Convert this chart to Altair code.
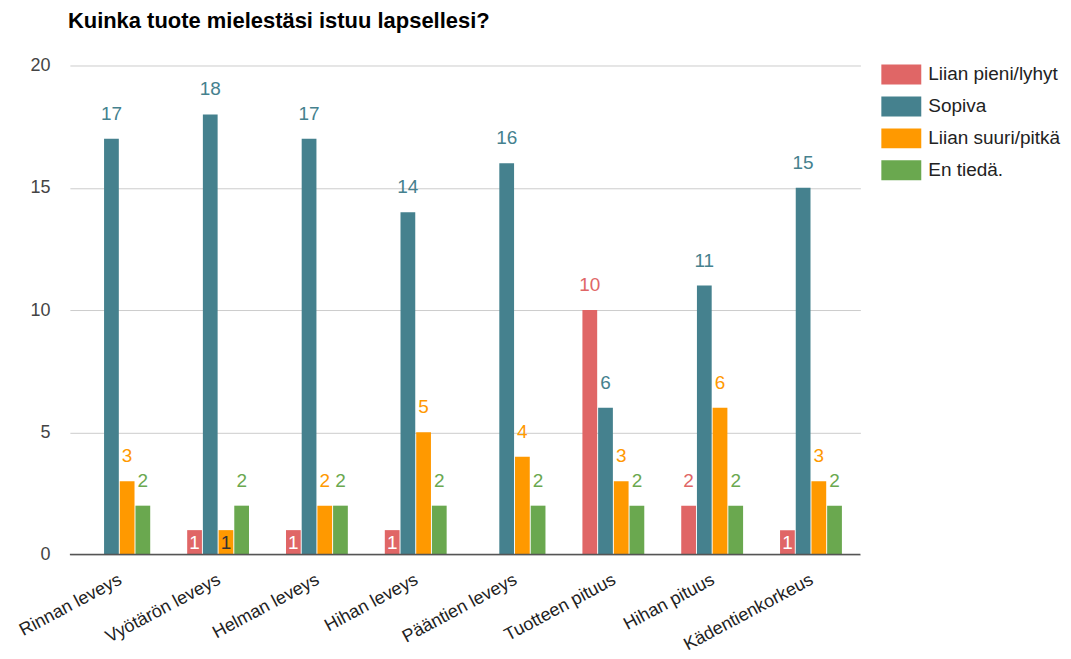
import altair as alt
import pandas as pd

categories = ["Rinnan leveys", "Vyötärön leveys", "Helman leveys", "Hihan leveys",
              "Pääntien leveys", "Tuotteen pituus", "Hihan pituus", "Kädentienkorkeus"]
series = ["Liian pieni/lyhyt", "Sopiva", "Liian suuri/pitkä", "En tiedä."]
colors = ["#e06666", "#45818e", "#ff9900", "#6aa84f"]
liian_pieni = [0, 1, 1, 1, 0, 10, 2, 1]
sopiva = [17, 18, 17, 14, 16, 6, 11, 15]
liian_suuri = [3, 1, 2, 5, 4, 3, 6, 3]
en_tieda = [2, 2, 2, 2, 2, 2, 2, 2]
inside_colors = ["#ffffff", "#ffffff", "#333333", "#ffffff"]

rows = []
for vals, s, c, ic in zip([liian_pieni, sopiva, liian_suuri, en_tieda], series, colors, inside_colors):
    for cat, v in zip(categories, vals):
        rows.append({"category": cat, "series": s, "value": v, "lcolor": c, "icolor": ic})
df = pd.DataFrame(rows)

FONT = "Liberation Sans"

x = alt.X("category:N", sort=categories, title=None,
          scale=alt.Scale(paddingInner=0.374, paddingOuter=0.187),
          axis=alt.Axis(labelAngle=-28, labelFontSize=18, labelColor="#222222", labelFont=FONT,
                        ticks=False, domain=False, labelPadding=16, labelOffset=-3))
xo = alt.XOffset("series:N", sort=series, scale=alt.Scale(paddingInner=0.06))
y = alt.Y("value:Q", title=None,
          scale=alt.Scale(domain=[0, 20], nice=False),
          axis=alt.Axis(values=[0, 5, 10, 15, 20], labelFontSize=18, labelColor="#444444",
                        labelFont=FONT, ticks=False, domain=False, labelPadding=20,
                        gridColor="#cccccc", gridWidth=1))

base = alt.Chart(df)

bars = base.mark_bar().encode(
    x=x, xOffset=xo, y=y,
    color=alt.Color("series:N", sort=series,
                    scale=alt.Scale(domain=series, range=colors),
                    legend=alt.Legend(title=None, orient="none", legendX=823, legendY=-1,
                                      symbolType="M-2,-1H2V1H-2Z", symbolSize=400,
                                      symbolStrokeWidth=0, symbolOpacity=1,
                                      labelFontSize=19, labelFont=FONT, labelColor="#222222",
                                      labelOffset=17, rowPadding=12)),
)

outside = base.transform_filter("datum.value >= 2").mark_text(
    baseline="alphabetic", dy=-19, fontSize=19, font=FONT
).encode(x=x, xOffset=xo, y=alt.Y("value:Q"), text="value:Q",
         color=alt.Color("lcolor:N", scale=None))

inside = base.transform_filter("datum.value == 1").transform_calculate(
    mid="datum.value / 2"
).mark_text(baseline="middle", fontSize=19, font=FONT, dy=1).encode(
    x=x, xOffset=xo, y=alt.Y("mid:Q"), text="value:Q",
    color=alt.Color("icolor:N", scale=None))

baseline = alt.Chart(pd.DataFrame({"v": [0]})).mark_rule(color="#555555", strokeWidth=1.5).encode(
    y=alt.Y("v:Q"))

chart = alt.layer(bars, outside, inside, baseline).properties(
    width=792, height=490,
    title=alt.TitleParams("Kuinka tuote mielestäsi istuu lapsellesi?", anchor="start",
                          frame="group", dx=-2,
                          font=FONT, fontSize=22, fontWeight="bold", color="#000000",
                          offset=24),
    autosize=alt.AutoSizeParams(type="none"),
    padding={"left": 62, "top": 57, "right": 203, "bottom": 104},
).configure_view(stroke=None)

chart.save("out.html", embed_options={"renderer": "svg", "actions": False})
